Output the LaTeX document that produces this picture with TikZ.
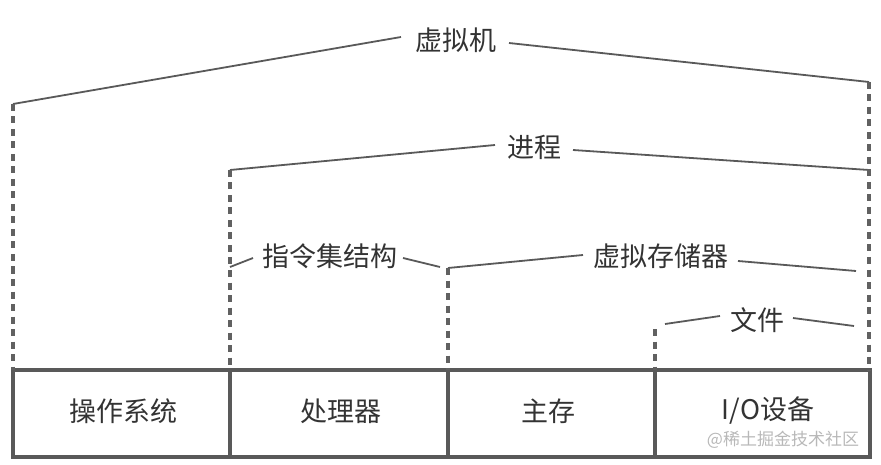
\documentclass[tikz,border=0pt]{standalone}
\usepackage{fontspec}
\newfontfamily\cjk{Noto Sans CJK SC}
\begin{document}
\begin{tikzpicture}[x=1pt,y=-1pt,
  lbl/.style={font=\cjk\fontsize{27}{27}\selectfont, text=black!80, inner sep=0pt},
  brace/.style={draw=black!65, line width=1.8pt},
  vdash/.style={draw=black!62, line width=3.3pt, dash pattern=on 7pt off 5.5pt},
  boxline/.style={draw=black!65, line width=3.4pt},
  cell/.style={font=\cjk\fontsize{27}{27}\selectfont, text=black!80, inner sep=0pt}]
\useasboundingbox (0,0) rectangle (881,465);
% box
\coordinate (b1) at (13,370);
\coordinate (b2) at (870,457);
\draw[boxline] (b1) rectangle (b2);
\coordinate (d1t) at (230,370); \coordinate (d1b) at (230,457);
\coordinate (d2t) at (448,370); \coordinate (d2b) at (448,457);
\coordinate (d3t) at (655,370); \coordinate (d3b) at (655,457);
\draw[boxline] (d1t) -- (d1b);
\draw[boxline] (d2t) -- (d2b);
\draw[boxline] (d3t) -- (d3b);
\node[cell] (os) at (123,411) {操作系统};
\node[cell] (cpu) at (341,411) {处理器};
\node[cell] (mem) at (548,411) {主存};
\node[cell] (io) at (768,411) {I/O设备};
\node[font=\cjk\fontsize{17}{17}\selectfont, text=black!28, inner sep=0pt] (wm) at (783,440) {@稀土掘金技术社区};
% labels
\node[lbl] (vm) at (456,40) {虚拟机};
\node[lbl] (proc) at (534,147) {进程};
\node[lbl] (isa) at (330,256) {指令集结构};
\node[lbl] (vmem) at (661,256) {虚拟存储器};
\node[lbl] (file) at (757,320) {文件};
% endpoints
\coordinate (vmL) at (13,104);   \coordinate (vmLi) at (401,37);
\coordinate (vmR) at (869,82);   \coordinate (vmRi) at (509,43);
\coordinate (prL) at (230,170);  \coordinate (prLi) at (495,145);
\coordinate (prR) at (869,170);  \coordinate (prRi) at (573,150);
\coordinate (isL) at (230,267);  \coordinate (isLi) at (253,258);
\coordinate (isR) at (440,267);  \coordinate (isRi) at (403,258);
\coordinate (vsL) at (448,268);  \coordinate (vsLi) at (583,255);
\coordinate (vsR) at (856,271);  \coordinate (vsRi) at (738,261);
\coordinate (fiL) at (665,324);  \coordinate (fiLi) at (720,316);
\coordinate (fiR) at (854,326);  \coordinate (fiRi) at (793,318);
\draw[brace] (vmL) -- (vmLi);
\draw[brace] (vmRi) -- (vmR);
\draw[brace] (prL) -- (prLi);
\draw[brace] (prRi) -- (prR);
\draw[brace] (isL) -- (isLi);
\draw[brace] (isRi) -- (isR);
\draw[brace] (vsL) -- (vsLi);
\draw[brace] (vsRi) -- (vsR);
\draw[brace] (fiL) -- (fiLi);
\draw[brace] (fiRi) -- (fiR);
% dashed verticals
\coordinate (dsA) at (13,104);
\coordinate (dsB) at (869,82);
\coordinate (dsC) at (230,170);
\coordinate (dsD) at (448,268);
\coordinate (dsE) at (655,329);
\coordinate (dsBb) at (869,370);
\draw[vdash] (dsA) -- (b1);
\draw[vdash] (dsB) -- (dsBb);
\draw[vdash] (dsC) -- (d1t);
\draw[vdash] (dsD) -- (d2t);
\draw[vdash] (dsE) -- (d3t);
\end{tikzpicture}
\end{document}
